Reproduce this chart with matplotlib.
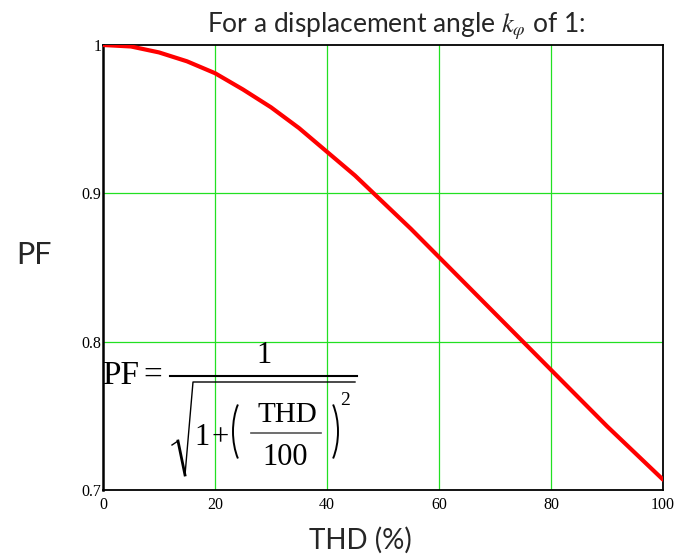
import matplotlib
matplotlib.use("Agg")
from matplotlib import pyplot as plt
from matplotlib.lines import Line2D
from matplotlib.patches import Arc

plt.rcParams["mathtext.fontset"] = "stix"

# Power factor vs. THD, read at 5 % steps
thd = [0, 5, 10, 15, 20, 25, 30, 35, 40, 45, 50,
       55, 60, 65, 70, 75, 80, 85, 90, 95, 100]
pf = [1.000, 0.999, 0.995, 0.989, 0.981, 0.970, 0.958, 0.944, 0.928, 0.912, 0.894,
      0.876, 0.857, 0.838, 0.819, 0.800, 0.781, 0.762, 0.743, 0.725, 0.707]

x_ticks = [0, 20, 40, 60, 80, 100]
y_ticks = [0.7, 0.8, 0.9, 1.0]
y_labels = ["0.7", "0.8", "0.9", "1"]

W, H = 683, 558
fig = plt.figure(figsize=(W / 100, H / 100), dpi=100)
ax = fig.add_axes([103 / W, 1 - 490 / H, 560 / W, 445 / H])


def fx(x):
    return x / W


def fy(y):
    return 1 - y / H


ax.plot(thd, pf, color="#ff0000", lw=3.0, solid_capstyle="round", zorder=3)

ax.set_xlim(0, 100)
ax.set_ylim(0.7, 1.0)
ax.set_xticks(x_ticks)
ax.set_yticks(y_ticks)
ax.set_yticklabels(y_labels)
ax.tick_params(length=0, labelsize=11.5, labelfontfamily="Liberation Serif")
ax.tick_params(axis="y", pad=1)
ax.tick_params(axis="x", pad=5)

for gx in x_ticks[1:-1]:
    ax.axvline(gx, color="#22e022", lw=0.9, zorder=1)
for gy in [0.8, 0.9]:
    ax.axhline(gy, color="#22e022", lw=0.9, zorder=1)

for s in ax.spines.values():
    s.set_color("black")
    s.set_linewidth(1.3)
ax.spines["left"].set_linewidth(1.8)

# title, axis names
fig.text(fx(396), fy(32), r"For a displacement angle $k_\varphi$ of 1:",
         fontsize=19, family="Lato", color="#262626", ha="center", va="baseline")
fig.text(fx(34), fy(255), "PF", fontsize=22, family="Lato",
         color="#262626", ha="center", va="center")
fig.text(fx(360), fy(540), "THD (%)", fontsize=20, family="Lato",
         color="#262626", ha="center", va="center")

# formula PF = 1 / sqrt(1 + (THD/100)^2), laid out piece by piece
serif = dict(family="Liberation Serif", color="black", va="baseline")
fig.text(fx(102), fy(384), "PF", fontsize=24, ha="left", **serif)
fig.text(fx(153), fy(384), "=", fontsize=24, ha="center", **serif)
fig.text(fx(264), fy(363), "1", fontsize=22, ha="center", **serif)
fig.text(fx(194), fy(445), "1", fontsize=22, ha="left", **serif)
fig.text(fx(220), fy(445), "+", fontsize=22, ha="center", **serif)
fig.text(fx(287), fy(422), "THD", fontsize=21, ha="center", **serif)
fig.text(fx(285), fy(465), "100", fontsize=22, ha="center", **serif)
fig.text(fx(340), fy(405), "2", fontsize=14, ha="left", **serif)

# fraction bars
fig.add_artist(Line2D([fx(170), fx(357)], [fy(376), fy(376)], color="black", lw=1.5))
fig.add_artist(Line2D([fx(251), fx(321)], [fy(433), fy(433)], color="#555555", lw=1.2))
# radical sign
fig.add_artist(Line2D([fx(172), fx(178)], [fy(445), fy(441)], color="black", lw=1.0))
fig.add_artist(Line2D([fx(178), fx(185)], [fy(441), fy(475)], color="black", lw=2.0))
fig.add_artist(Line2D([fx(185), fx(193), fx(355)], [fy(475), fy(382), fy(382)],
                      color="black", lw=1.0))
# parentheses
fig.add_artist(Arc((fx(257), fy(431.5)), 48 / W, 89 / H, theta1=120, theta2=240,
                   transform=fig.transFigure, color="black", lw=1.4))
fig.add_artist(Arc((fx(314), fy(431.5)), 48 / W, 89 / H, theta1=-60, theta2=60,
                   transform=fig.transFigure, color="black", lw=1.4))

fig.savefig("out.png", dpi=100)
